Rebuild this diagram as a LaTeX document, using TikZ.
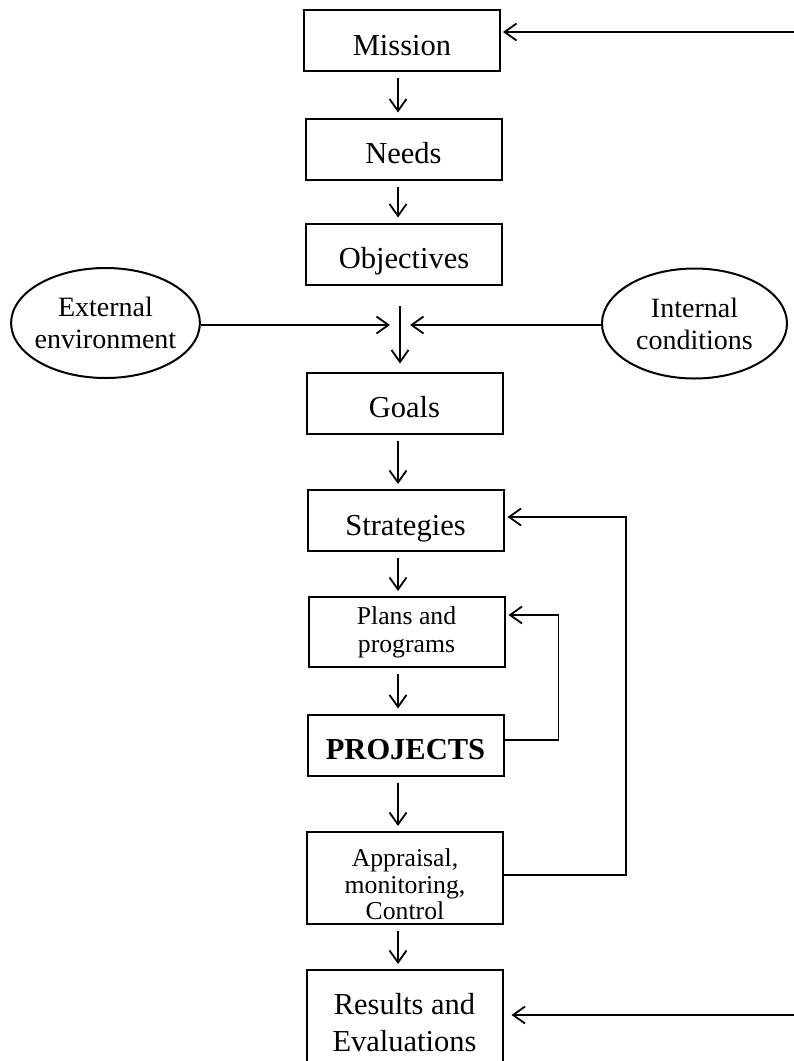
\documentclass[tikz,border=0pt]{standalone}
\usepackage{fontspec}
\setmainfont{Liberation Serif}
\usetikzlibrary{arrows.meta,shapes.geometric}

\begin{document}
\begin{tikzpicture}[x=1pt, y=-1pt, >={Straight Barb[length=12pt,width=17pt]},
        stage/.style={draw, line width=2pt, minimum width=196pt, minimum height=61pt, inner sep=0pt, align=center,
            text height=29pt, text depth=0pt, font={\fontsize{30.5}{37}\selectfont}},
        stagemulti/.style={draw, line width=2pt, minimum width=196pt, inner sep=0pt, align=center},
        factor/.style={draw, ellipse, line width=2pt, minimum width=185pt, minimum height=110pt, inner xsep=-4pt,
            inner ysep=10pt, align=center, font={\fontsize{28}{32}\selectfont}},
        link/.style={->, line width=1.8pt},
        flow/.style={link, shorten <=6pt, shorten >=5pt}]
        \useasboundingbox (0, 0) rectangle (794, 1061);
        \clip (0, 0) rectangle (794, 1061);

        \node[stage] (mission) at (402, 40.5) {Mission};
        \node[stage] (needs) at (403.5, 149) {Needs};
        \node[stage] (objectives) at (404, 254) {Objectives};
        \node[factor] (ext) at (105.5, 323) {External\\environment};
        \node[factor] (int) at (694.5, 323.5) {Internal\\conditions};
        \node[stage] (goals) at (404.5, 403) {Goals};
        \node[stage] (strategies) at (405.5, 520.5) {Strategies};
        \node[stagemulti, minimum height=70pt, font={\fontsize{25.7}{28}\selectfont}] (plans) at (406.5, 632) {Plans and\\programs};
        \node[stage, font={\fontsize{30.5}{37}\selectfont\bfseries}] (projects) at (405.5, 745) {PROJECTS};
        \node[stagemulti, minimum height=92pt, font={\fontsize{25.7}{26.5}\selectfont}] (appraisal) at (405, 878) {\rule{0pt}{31pt}Appraisal,\\monitoring,\\Control};
        \node[stagemulti, minimum height=106pt, font={\fontsize{30.5}{37}\selectfont}] (results) at (404.5, 1023) {Results and\\Evaluations};

        \coordinate (spine) at (398, 0);
        \coordinate (join) at (400, 306);
        \coordinate (topin) at (794, 32);
        \coordinate (botin) at (794, 1015);

        % main chain
        \draw[flow] (mission.south -| spine) -- (needs.north -| spine);
        \draw[flow] (needs.south -| spine) -- (objectives.north -| spine);
        \draw[link, shorten >=8pt] (join) -- (join |- goals.north);
        \draw[flow] (goals.south -| spine) -- (strategies.north -| spine);
        \draw[flow] (strategies.south -| spine) -- (plans.north -| spine);
        \draw[flow] (plans.south -| spine) -- (projects.north -| spine);
        \draw[flow] (projects.south -| spine) -- (appraisal.north -| spine);
        \draw[flow] (appraisal.south -| spine) -- (results.north -| spine);

        % environment and conditions
        \draw[link, shorten >=10pt] ([yshift=-2pt]ext.east) -- ([yshift=-2pt]ext.east -| join);
        \draw[link, shorten >=10pt] ([yshift=-1.5pt]int.west) -- ([yshift=-1.5pt]int.west -| join);

        % feedback
        \draw[link, shorten >=3pt] ([yshift=3pt]appraisal.east) -- ++(122, 0) |- ([yshift=3.5pt]strategies.east);
        \draw[link, shorten >=3pt] ([yshift=5pt]projects.east) -- ++(54, 0) |- ([yshift=17pt]plans.east);
        \draw[link, shorten >=2pt] (topin) -- (topin -| mission.east);
        \draw[link, shorten >=8pt] (botin) -- (botin -| results.east);
    \end{tikzpicture}
\end{document}
